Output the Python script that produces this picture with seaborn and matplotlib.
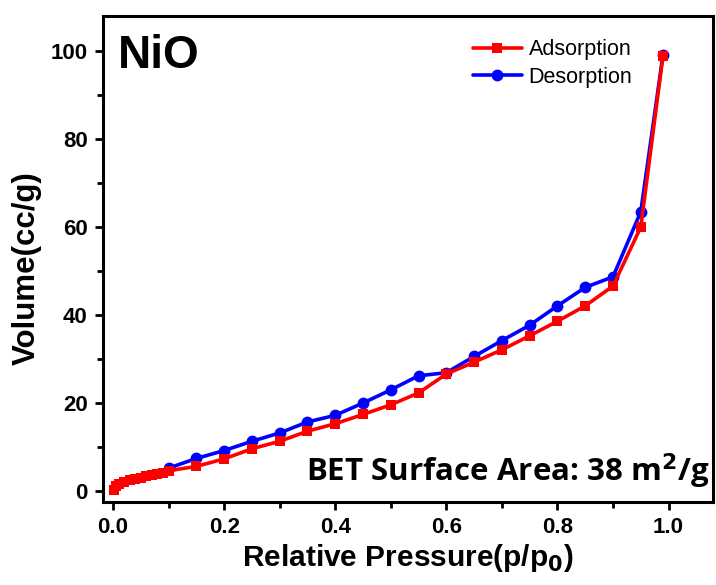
import matplotlib
matplotlib.use("Agg")
import matplotlib.pyplot as plt
import seaborn as sns
import pandas as pd
import numpy as np

# Data
ads_p = [0.001, 0.005, 0.01, 0.02, 0.03, 0.04, 0.05, 0.06, 0.07, 0.08, 0.09,
         0.10, 0.15, 0.20, 0.25, 0.30, 0.35, 0.40, 0.45, 0.50, 0.55, 0.60,
         0.65, 0.70, 0.75, 0.80, 0.85, 0.90, 0.95, 0.99]
ads_v = [0.3, 1.2, 1.6, 2.0, 2.4, 2.7, 3.0, 3.3, 3.6, 3.9, 4.2,
         4.6, 5.6, 7.3, 9.6, 11.3, 13.6, 15.3, 17.4, 19.6, 22.3, 26.6,
         29.3, 32.1, 35.3, 38.6, 42.1, 46.6, 60.0, 99.0]
des_p = [0.10, 0.15, 0.20, 0.25, 0.30, 0.35, 0.40, 0.45, 0.50, 0.55, 0.60,
         0.65, 0.70, 0.75, 0.80, 0.85, 0.90, 0.95, 0.99]
des_v = [5.2, 7.4, 9.2, 11.3, 13.2, 15.7, 17.2, 20.0, 23.0, 26.2, 26.9,
         30.6, 34.2, 37.7, 42.1, 46.3, 48.7, 63.5, 99.2]

x_ticks = [0.0, 0.2, 0.4, 0.6, 0.8, 1.0]
y_ticks = [0, 20, 40, 60, 80, 100]

sns.set_style("ticks")
plt.rcParams['font.family'] = ['Liberation Sans', 'DejaVu Sans']
plt.rcParams.update({'text.color': 'black', 'axes.labelcolor': 'black',
                     'xtick.color': 'black', 'ytick.color': 'black',
                     'axes.edgecolor': 'black'})

fig = plt.figure(figsize=(7.16, 5.85), dpi=100)
ax = fig.add_axes([0.1439, 0.1419, 0.8519, 0.8307])

df_a = pd.DataFrame({"p": ads_p, "v": ads_v})
df_d = pd.DataFrame({"p": des_p, "v": des_v})

sns.lineplot(data=df_a, x="p", y="v", ax=ax, color="#ff0000", marker="s",
             markersize=7, markeredgewidth=0, linewidth=2.6, label="Adsorption", zorder=3)
sns.lineplot(data=df_d, x="p", y="v", ax=ax, color="#0000ff", marker="o",
             markersize=8.5, markeredgewidth=0, linewidth=2.6, label="Desorption", zorder=2)

ax.set_xlim(-0.018, 1.08)
ax.set_ylim(-2.5, 108)
ax.set_xticks(x_ticks)
ax.set_yticks(y_ticks)
ax.set_xticks([0.1, 0.3, 0.5, 0.7, 0.9], minor=True)
ax.set_yticks([10, 30, 50, 70, 90], minor=True)
ax.tick_params(axis='both', which='major', direction='out', length=6, width=2,
               labelsize=16, pad=5, colors='black')
ax.tick_params(axis='both', which='minor', direction='out', length=4, width=2, colors='black')
ax.set_xticklabels([f"{t:.1f}" for t in x_ticks], fontweight='bold')
ax.set_yticklabels([str(t) for t in y_ticks], fontweight='bold')
for s in ax.spines.values():
    s.set_linewidth(2.2)
    s.set_color('black')
    s.set_visible(True)

ax.set_xlabel(r"Relative Pressure(p/p$_\mathbf{0}$)", fontsize=21.5, fontweight='bold', labelpad=3)
ax.set_ylabel("Volume(cc/g)", fontsize=22.5, fontweight='bold')
ax.yaxis.set_label_coords(-0.1, 0.481)

ax.text(0.024, 0.963, "NiO", transform=ax.transAxes, fontsize=33, fontweight='bold',
        va='top', ha='left')
ax.text(0.995, 0.022, r"BET Surface Area: 38 m$^\mathbf{2}$/g", transform=ax.transAxes,
        fontsize=22.5, fontweight='bold', va='bottom', ha='right', family=['Open Sans', 'DejaVu Sans'])

leg = ax.legend(loc='upper left', bbox_to_anchor=(0.592, 0.97), frameon=False, fontsize=15.5,
                handlelength=2.3, handletextpad=0.3, labelspacing=0.3, borderaxespad=0)
for t in leg.get_texts():
    t.set_color('black')

fig.savefig("out.png", dpi=100)
